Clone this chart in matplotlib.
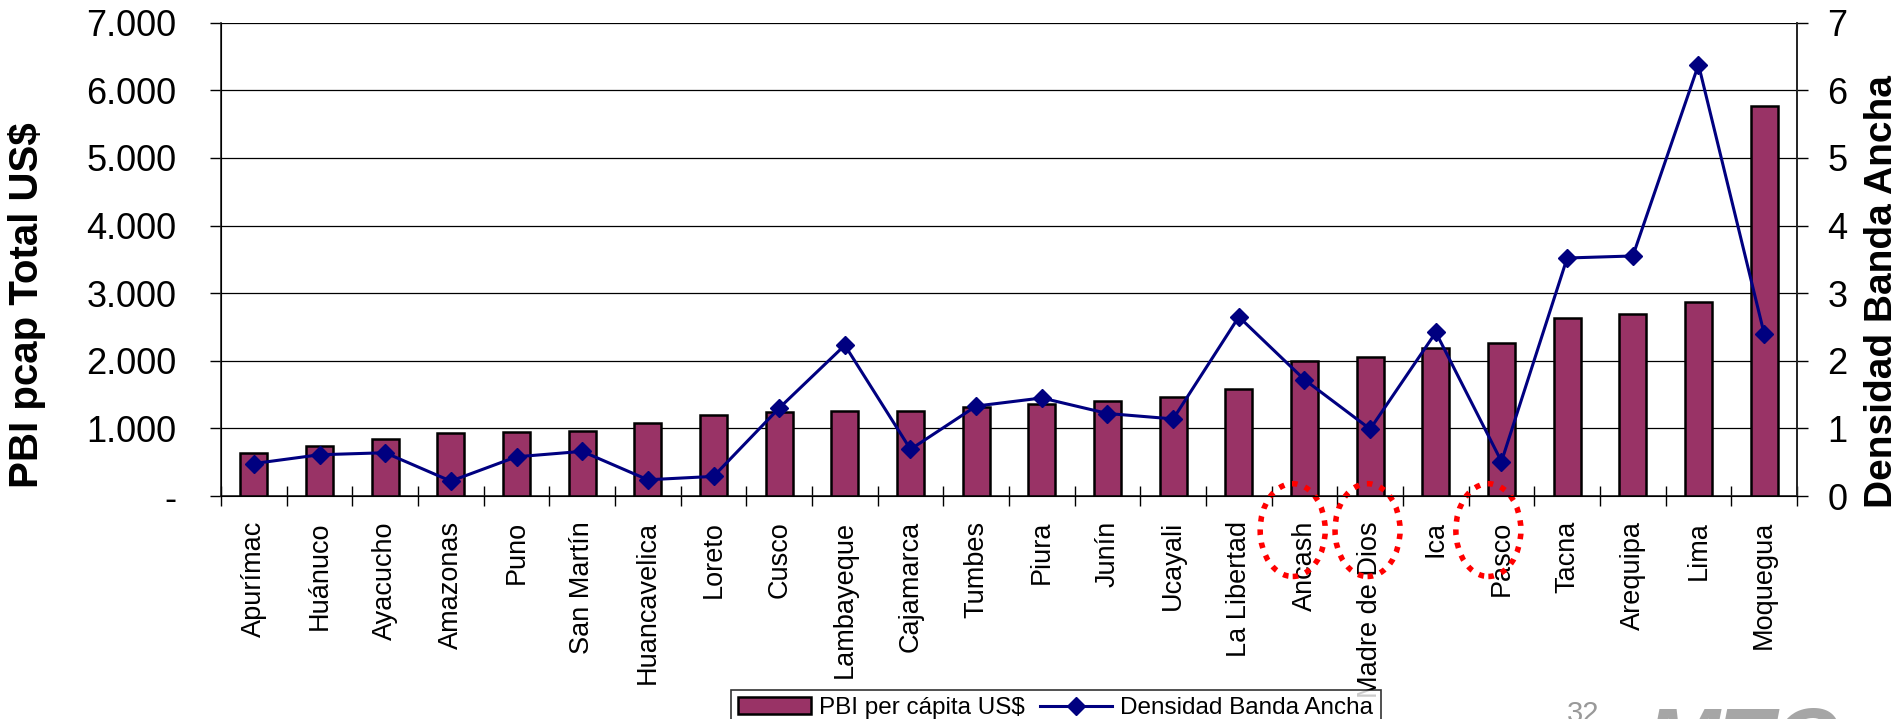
import matplotlib
matplotlib.use("Agg")
import matplotlib.pyplot as plt
import numpy as np
from matplotlib.patches import Ellipse
from matplotlib.lines import Line2D
from matplotlib.ticker import FuncFormatter, FixedLocator
from matplotlib.transforms import blended_transform_factory

plt.rcParams["font.family"] = ["Liberation Sans", "DejaVu Sans"]

# ── Data ─────────────────────────────────────────────────────────────────────
regions = [
    "Apurímac", "Huánuco", "Ayacucho", "Amazonas", "Puno", "San Martín",
    "Huancavelica", "Loreto", "Cusco", "Lambayeque", "Cajamarca", "Tumbes",
    "Piura", "Junín", "Ucayali", "La Libertad", "Ancash", "Madre de Dios",
    "Ica", "Pasco", "Tacna", "Arequipa", "Lima", "Moquegua",
]
pbi_pc = [640, 743, 842, 926, 945, 955, 1083, 1192, 1236, 1251, 1256, 1319,
          1354, 1398, 1458, 1585, 2004, 2063, 2191, 2265, 2634, 2688, 2870, 5775]
densidad = [0.48, 0.61, 0.64, 0.22, 0.58, 0.66, 0.24, 0.29, 1.30, 2.23, 0.69, 1.33,
            1.45, 1.22, 1.14, 2.65, 1.72, 0.99, 2.42, 0.51, 3.52, 3.55, 6.38, 2.40]

# regions circled in red on the slide
circled = ["Ancash", "Madre de Dios", "Pasco"]

BAR_C = "#993366"
LINE_C = "#000080"

fig = plt.figure(figsize=(19.03, 7.19), dpi=100)
ax = fig.add_axes([221 / 1903, 1 - 496 / 719, (1797 - 221) / 1903, (496 - 22.7) / 719])

x = np.arange(len(regions))
bars = ax.bar(x, pbi_pc, width=0.41, color=BAR_C, edgecolor="black", linewidth=1.8, zorder=3,
              label="PBI per cápita US$")
ax.set_xlim(-0.5, len(regions) - 0.5)
ax.set_ylim(0, 7000)
ax.yaxis.set_major_locator(FixedLocator(np.arange(0, 7001, 1000)))
ax.yaxis.set_major_formatter(FuncFormatter(lambda v, _: "-" if v == 0 else f"{v:,.0f}".replace(",", ".")))
ax.grid(axis="y", color="black", lw=0.9, zorder=0)
ax.tick_params(axis="y", labelsize=26, length=8, width=1, pad=24, direction="out")

# category ticks between bars, labels at the centres
ax.xaxis.set_major_locator(FixedLocator(np.arange(-0.5, len(regions), 1.0)))
ax.xaxis.set_major_formatter(FuncFormatter(lambda v, _: ""))
ax.set_xticks(x, minor=True)
ax.set_xticklabels(regions, minor=True, rotation=90, fontsize=19.5, va="top", ha="center")
ax.tick_params(axis="x", which="major", direction="inout", length=14, width=1)
ax.tick_params(axis="x", which="minor", length=0, pad=18)

ax.spines["top"].set_visible(False)
for side in ["left", "bottom", "right"]:
    ax.spines[side].set_color("#222222")
    ax.spines[side].set_linewidth(1.2)

ax2 = ax.twinx()
ax2.plot(x, densidad, color=LINE_C, lw=2.2, marker="D", markersize=9, zorder=4)
ax2.set_ylim(0, 7)
ax2.yaxis.set_major_locator(FixedLocator(np.arange(0, 8, 1)))
ax2.tick_params(axis="y", labelsize=26, length=8, width=1, pad=14, direction="out")
ax2.spines["top"].set_visible(False)
ax2.spines["right"].set_color("#222222")
ax2.spines["right"].set_linewidth(1.2)

fig.text(27 / 1903, 1 - 305 / 719, "PBI pcap Total US$", rotation=90, fontsize=29,
         fontweight="bold", ha="center", va="center")
fig.text(1882 / 1903, 1 - 292 / 719, "Densidad Banda Ancha", rotation=90, fontsize=28,
         fontweight="bold", ha="center", va="center")

# red dotted circles around some region labels
trans = blended_transform_factory(ax.transData, ax.transAxes)
for name, dx in zip(circled, [-0.18, -0.04, -0.2]):
    i = regions.index(name)
    e = Ellipse((i + dx, -0.072), width=0.99, height=0.196, transform=trans, fill=False,
                edgecolor="#ff0000", lw=4, linestyle=(0, (1, 1.4)), clip_on=False, zorder=5)
    ax.add_artist(e)

handles = [bars, Line2D([], [], color=LINE_C, lw=2.2, marker="D", markersize=9)]
leg = fig.legend(handles, ["PBI per cápita US$", "Densidad Banda Ancha"], ncol=2,
                 loc="upper left", bbox_to_anchor=(731 / 1903, 1 - 690 / 719),
                 borderaxespad=0, frameon=True, fancybox=False, edgecolor="black",
                 borderpad=0.3, handlelength=3.0, columnspacing=0.6, handletextpad=0.33,
                 prop={"size": 17.5})
leg.get_frame().set_linewidth(1.2)

fig.text(1567 / 1903, 1 - 700 / 719, "32", fontsize=21, color="#999999", ha="left", va="top")
fig.text(1645 / 1903, 1 - 705 / 719, "MTC", fontsize=64, color="#a6a6a6", fontweight="bold",
         fontstyle="italic", ha="left", va="top")

fig.savefig("out.png", dpi=100)
